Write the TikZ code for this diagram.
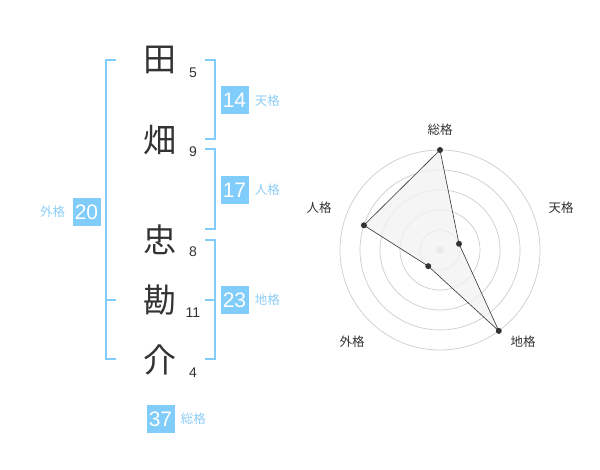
\documentclass[tikz,border=0pt]{standalone}
\usepackage{fontspec}
\setmainfont{Noto Sans CJK JP}
\newfontfamily\digitfont{Liberation Sans}
\usetikzlibrary{positioning}
\definecolor{boxColor}{RGB}{128,204,250}
\definecolor{labelColor}{RGB}{140,205,245}
\definecolor{inkColor}{RGB}{51,51,51}
\definecolor{ringColor}{RGB}{205,205,205}
\definecolor{areaColor}{RGB}{242,242,242}

\begin{document}
\begin{tikzpicture}[x=1pt,y=-1pt,
  kanji/.style={inkColor, font=\fontsize{33}{33}\selectfont, inner sep=0},
  strokes/.style={inkColor, font=\digitfont\fontsize{14}{14}\selectfont, inner sep=0},
  scorebox/.style={fill=boxColor, text=white, minimum size=28, inner sep=0, font=\digitfont\fontsize{21}{21}\selectfont},
  scorelabel/.style={labelColor, font=\fontsize{12.5}{12.5}\selectfont, inner sep=0},
  axislabel/.style={inkColor, font=\fontsize{12.5}{12.5}\selectfont, inner sep=0},
  bracket/.style={boxColor, line width=2},
]
\useasboundingbox (0,0) rectangle (600,470);

% name and stroke counts
\node [kanji] (k1) at (160,60) {田};
\node [kanji] (k2) at (160,140) {畑};
\node [kanji] (k3) at (160,240) {忠};
\node [kanji] (k4) at (160,300) {勘};
\node [kanji] (k5) at (160,360) {介};
\node [strokes] (s1) at (193,73) {5};
\node [strokes] (s2) at (193,152) {9};
\node [strokes] (s3) at (193,252) {8};
\node [strokes] (s4) at (193,313) {11};
\node [strokes] (s5) at (193,373) {4};

% brackets
\draw [bracket] (116,60) -- (106,60) -- (106,359) -- (116,359);
\draw [bracket] (106,300) -- (116,300);
\draw [bracket] (205,60) -- (215,60) -- (215,139) -- (205,139);
\draw [bracket] (205,149) -- (215,149) -- (215,229) -- (205,229);
\draw [bracket] (205,240) -- (215,240) -- (215,359) -- (205,359);
\draw [bracket] (205,300) -- (215,300);

% scores
\node [scorebox] (tenBox) at (234.5,100.5) {14};
\node [scorelabel, right=6pt of tenBox] (tenText) {天格};
\node [scorebox] (jinBox) at (234.5,190) {17};
\node [scorelabel, right=6pt of jinBox] (jinText) {人格};
\node [scorebox] (chiBox) at (234.5,300) {23};
\node [scorelabel, right=6pt of chiBox] (chiText) {地格};
\node [scorebox] (gaiBox) at (86.5,212) {20};
\node [scorelabel, left=7pt of gaiBox] (gaiText) {外格};
\node [scorebox] (souBox) at (160.5,419) {37};
\node [scorelabel, right=6pt of souBox] (souText) {総格};

% radar chart
\begin{scope}[xshift=440pt, yshift=-250pt, y=1pt]
\foreach \r in {20,40,...,100}
  \draw [ringColor, line width=0.7] (0,0) circle (\r pt);
\fill [gray!45] (0,0) circle (3.5pt);
\coordinate (souPt) at (90:100);
\coordinate (tenPt) at (18:20);
\coordinate (chiPt) at (-54:100);
\coordinate (gaiPt) at (234:20);
\coordinate (jinPt) at (162:80);
\filldraw [fill=areaColor, fill opacity=0.8, draw=inkColor, line width=0.6]
  (souPt) -- (tenPt) -- (chiPt) -- (gaiPt) -- (jinPt) -- cycle;
\foreach \p in {souPt,tenPt,chiPt,gaiPt,jinPt}
  \fill [inkColor] (\p) circle (3pt);
\node [axislabel] (souAxis) at (0,120) {総格};
\node [axislabel] (tenAxis) at (121,42) {天格};
\node [axislabel] (jinAxis) at (-121,42) {人格};
\node [axislabel] (gaiAxis) at (-88,-92) {外格};
\node [axislabel] (chiAxis) at (83,-92) {地格};
\end{scope}
\end{tikzpicture}
\end{document}
